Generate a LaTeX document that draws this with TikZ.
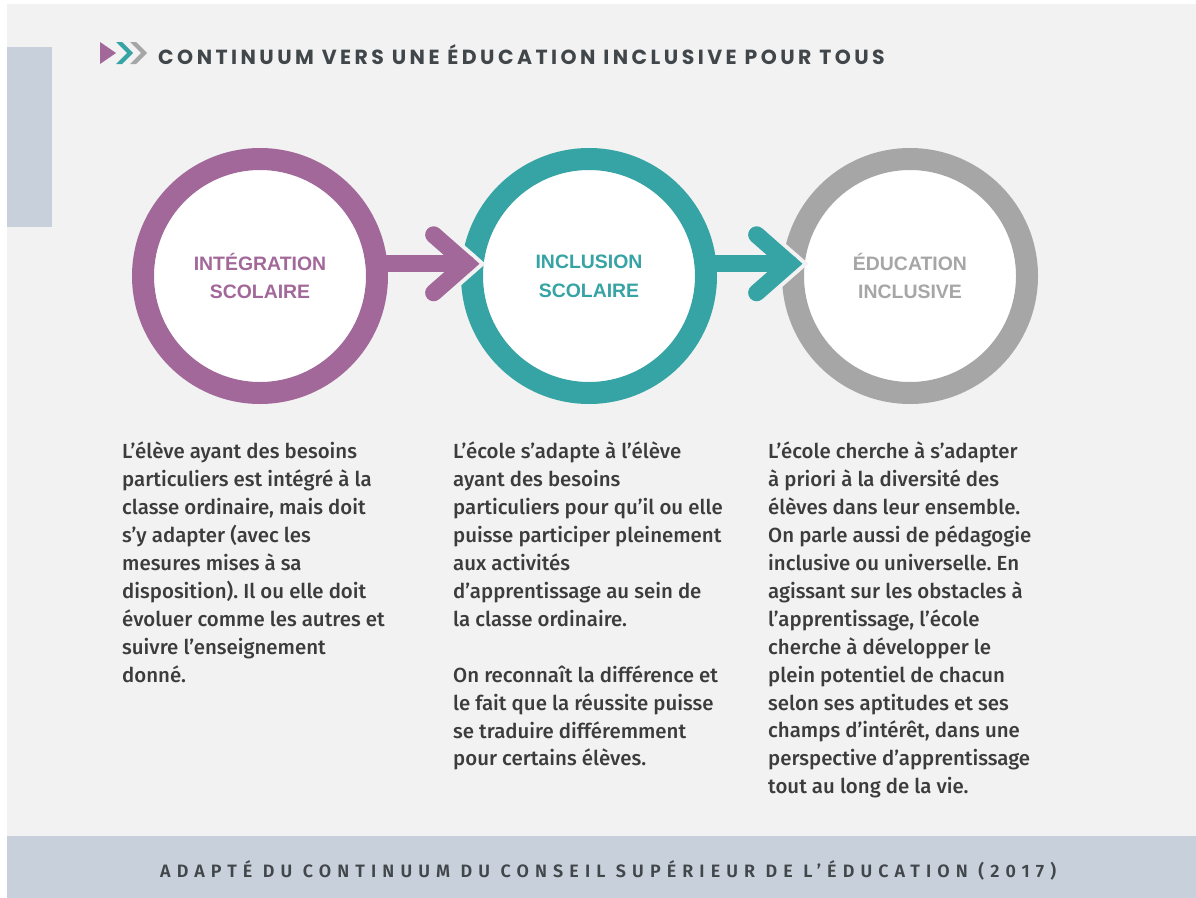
\documentclass[tikz,border=0pt]{standalone}
\usepackage{fontspec}
\usepackage{tikz}
\setmainfont{Fira Sans}
\newfontfamily\bodyfont{Fira Sans}[UprightFont=* Medium]
\newfontfamily\footfont{Fira Sans}[UprightFont=* SemiBold,LetterSpace=34]
\newfontfamily\titlefont{Poppins}[LetterSpace=17]
\newfontfamily\labelfont{Liberation Sans}
\frenchspacing

\definecolor{paper}{HTML}{F2F2F2}
\definecolor{slate}{HTML}{C8D1DB}
\definecolor{plumring}{HTML}{A2689A}
\definecolor{tealring}{HTML}{36A3A4}
\definecolor{greyring}{HTML}{A6A6A6}
\definecolor{ink}{HTML}{3C3C3C}
\definecolor{titleink}{HTML}{41464A}

\begin{document}
\begin{tikzpicture}[x=1bp,y=-1bp,
	ring/.style={circle,draw=#1,text=#1,line width=22bp,fill=white,minimum size=234bp,inner sep=0pt,outer sep=0pt,align=center,font=\labelfont\bfseries\fontsize{19.5}{29}\selectfont},
	link/.style={draw=#1,line width=17bp,line cap=round,line join=miter},
	halo/.style={draw=paper,line width=25bp,line cap=round,line join=miter},
	body/.style={anchor=north west,inner sep=0pt,align=left,text=ink,font=\bodyfont\fontsize{20.5}{28}\selectfont}]
	\newcommand\Chevron{+(0,0) -- +(6,0) -- +(17,11) -- +(6,22) -- +(0,22) -- +(11,11) -- cycle}
	\newcommand\Barb{+(-33,-29) -- +(0,0) -- +(-33,29)}

	\useasboundingbox (0,0) rectangle (1196,898);
	\fill[white] (0,0) rectangle (1196,898);
	\fill[paper] (7,4) rectangle (1196,836);
	\fill[slate] (7,47) rectangle (52,227);
	\fill[slate] (7,836) rectangle (1196,898);

	% heading
	\fill[plumring] (100,42) -- (116,53) -- (100,64) -- cycle;
	\fill[tealring] (116,42) \Chevron;
	\fill[greyring] (130,42) \Chevron;
	\node[anchor=base west,inner sep=0pt,text=titleink,font=\titlefont\bfseries\fontsize{20.5}{20.5}\selectfont] (title) at (158,64) {CONTINUUM VERS UNE ÉDUCATION INCLUSIVE POUR TOUS};

	% the three stages
	\node[ring=plumring] (integ) at (260,276) {INTÉGRATION\\SCOLAIRE};
	\node[ring=tealring] (incl) at (589,276) {INCLUSION\\SCOLAIRE};
	\node[ring=greyring] (edu) at (910,276) {ÉDUCATION\\INCLUSIVE};

	\coordinate (tipA) at ([xshift=-6bp]incl.174);
	\coordinate (tipB) at ([xshift=-4bp]edu.174);

	\draw[halo] ([xshift=-40bp]tipA) -- (tipA);
	\draw[halo] (tipA) \Barb;
	\draw[halo] ([xshift=-40bp]tipB) -- (tipB);
	\draw[halo] (tipB) \Barb;

	\draw[link=plumring] (integ.6) -- (tipA);
	\draw[link=plumring] (tipA) \Barb;
	\draw[link=tealring] (incl.6) -- (tipB);
	\draw[link=tealring] (tipB) \Barb;

	% texts
	\node[body] (integtxt) at (122,442) {L’élève ayant des besoins\\particuliers est intégré à la\\classe ordinaire, mais doit\\s’y adapter (avec les\\mesures mises à sa\\disposition). Il ou elle doit\\évoluer comme les autres et\\suivre l’enseignement\\donné.};
	\node[body] (incltxt) at (453,442) {L’école s’adapte à l’élève\\ayant des besoins\\particuliers pour qu’il ou elle\\puisse participer pleinement\\aux activités\\d’apprentissage au sein de\\la classe ordinaire.\\[28bp]On reconnaît la différence et\\le fait que la réussite puisse\\se traduire différemment\\pour certains élèves.};
	\node[body] (edutxt) at (768,442) {L’école cherche à s’adapter\\à priori à la diversité des\\élèves dans leur ensemble.\\On parle aussi de pédagogie\\inclusive ou universelle. En\\agissant sur les obstacles à\\l’apprentissage, l’école\\cherche à développer le\\plein potentiel de chacun\\selon ses aptitudes et ses\\champs d’intérêt, dans une\\perspective d’apprentissage\\tout au long de la vie.};

	\node[anchor=base west,inner sep=0pt,text=titleink,font=\footfont\fontsize{18}{18}\selectfont] (source) at (160,877) {ADAPTÉ DU CONTINUUM DU CONSEIL SUPÉRIEUR DE L’ÉDUCATION (2017)};
\end{tikzpicture}
\end{document}
